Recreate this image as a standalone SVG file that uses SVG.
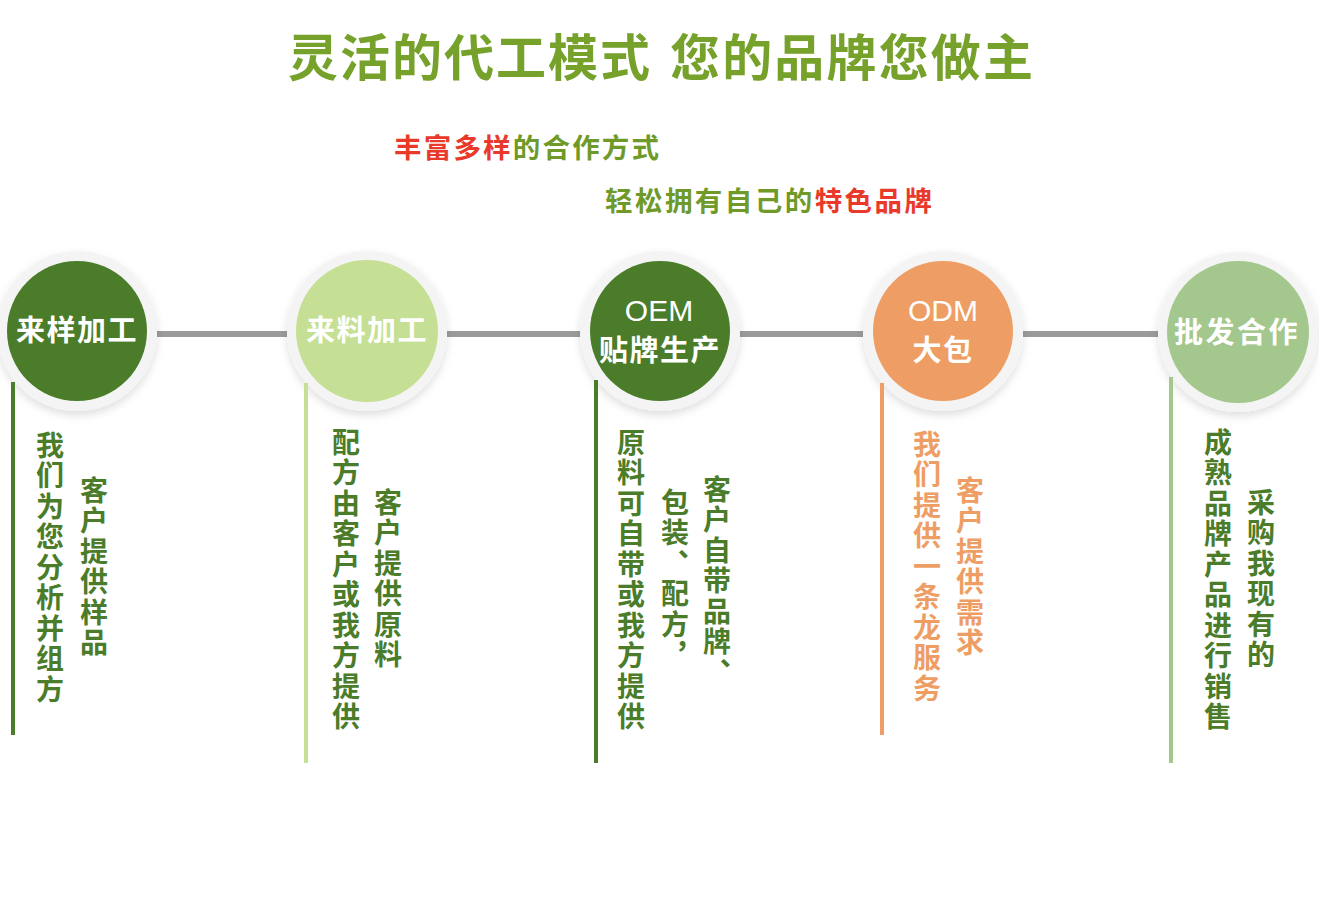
<svg xmlns="http://www.w3.org/2000/svg" width="1319" height="914" viewBox="0 0 1319 914">
  <style>
    .cjk { font-family: "Noto Sans CJK SC", "Noto Sans", sans-serif; font-weight: 700; }
    .title { font-size: 50px; fill: #76a22c; }
    .sub { font-size: 27.5px; }
    .red { fill: #e8392a; }
    .grn { fill: #6f9a2a; }
    .lbl { font-size: 29px; fill: #ffffff; text-anchor: middle; letter-spacing: 1.5px; }
    .lat { font-family: "Liberation Sans", Arial, sans-serif; font-size: 30px; fill: #ffffff; text-anchor: middle; }
    .ring { fill: #f4f4f4; }
    .conn { stroke: #9b9b9b; stroke-width: 6; fill: none; }
    .vt { font-size: 28px; writing-mode: vertical-rl; letter-spacing: 2.5px; }
    .dg { fill: #4a7c2a; }
    .or { fill: #ee9e64; }
  </style>
  <defs>
    <filter id="sh" x="-30%" y="-30%" width="160%" height="170%">
      <feDropShadow dx="0" dy="4" stdDeviation="4" flood-color="#000000" flood-opacity="0.13"/>
    </filter>
  </defs>
  <rect width="1319" height="914" fill="#ffffff"/>

  <g id="title">
    <text class="cjk title" x="288" y="76" textLength="362" lengthAdjust="spacing">灵活的代工模式</text>
    <text class="cjk title" x="670" y="76" textLength="363" lengthAdjust="spacing">您的品牌您做主</text>
  </g>
  <g id="subtitles">
    <text class="cjk sub" x="394" y="158" textLength="265" lengthAdjust="spacing"><tspan class="red">丰富多样</tspan><tspan class="grn">的合作方式</tspan></text>
    <text class="cjk sub" x="605" y="211" textLength="327" lengthAdjust="spacing"><tspan class="grn">轻松拥有自己的</tspan><tspan class="red">特色品牌</tspan></text>
  </g>

  <g id="connectors">
    <line class="conn" x1="157" y1="334" x2="287" y2="334"/>
    <line class="conn" x1="447" y1="334" x2="580" y2="334"/>
    <line class="conn" x1="740" y1="334" x2="863" y2="334"/>
    <line class="conn" x1="1023" y1="334" x2="1158" y2="334"/>
  </g>

  <g id="node-1">
    <circle class="ring" cx="77" cy="331" r="80" filter="url(#sh)"/>
    <circle cx="77" cy="331" r="70" fill="#4a7c2a"/>
    <text class="cjk lbl" x="77" y="341">来样加工</text>
    <rect x="11" y="382" width="4" height="353" fill="#4a7c2a"/>
  </g>
  <g id="node-2">
    <circle class="ring" cx="367" cy="331" r="80" filter="url(#sh)"/>
    <circle cx="367" cy="331" r="71" fill="#c5e094"/>
    <text class="cjk lbl" x="367" y="341">来料加工</text>
    <rect x="304" y="383" width="4" height="380" fill="#c5e094"/>
  </g>
  <g id="node-3">
    <circle class="ring" cx="660" cy="331" r="80" filter="url(#sh)"/>
    <circle cx="660" cy="331" r="70" fill="#4a7c2a"/>
    <text class="lat" x="659" y="321">OEM</text>
    <text class="cjk lbl" x="660" y="361">贴牌生产</text>
    <rect x="594" y="380" width="4" height="383" fill="#4a7c2a"/>
  </g>
  <g id="node-4">
    <circle class="ring" cx="943" cy="331" r="80" filter="url(#sh)"/>
    <circle cx="943" cy="331" r="70" fill="#ee9e64"/>
    <text class="lat" x="943" y="321">ODM</text>
    <text class="cjk lbl" x="943" y="361">大包</text>
    <rect x="880" y="383" width="4" height="352" fill="#ee9e64"/>
  </g>
  <g id="node-5">
    <circle class="ring" cx="1238" cy="332" r="80" filter="url(#sh)"/>
    <circle cx="1238" cy="332" r="71" fill="#a3c78c"/>
    <text class="cjk lbl" x="1237" y="343" style="letter-spacing:2.5px">批发合作</text>
    <rect x="1169" y="377" width="4" height="386" fill="#a3c78c"/>
  </g>

  <g id="desc-1">
    <text class="cjk vt dg" x="50" y="431">我们为您分析并组方</text>
    <text class="cjk vt dg" x="94" y="476">客户提供样品</text>
  </g>
  <g id="desc-2">
    <text class="cjk vt dg" x="346" y="428">配方由客户或我方提供</text>
    <text class="cjk vt dg" x="388" y="488">客户提供原料</text>
  </g>
  <g id="desc-3">
    <text class="cjk vt dg" x="631" y="428">原料可自带或我方提供</text>
    <text class="cjk vt dg" x="675" y="488">包装、配方，</text>
    <text class="cjk vt dg" x="717" y="475">客户自带品牌、</text>
  </g>
  <g id="desc-4">
    <text class="cjk vt or" x="927" y="430">我们提供一条龙服务</text>
    <text class="cjk vt or" x="970" y="476">客户提供需求</text>
  </g>
  <g id="desc-5">
    <text class="cjk vt dg" x="1218" y="428">成熟品牌产品进行销售</text>
    <text class="cjk vt dg" x="1261" y="488">采购我现有的</text>
  </g>
</svg>
